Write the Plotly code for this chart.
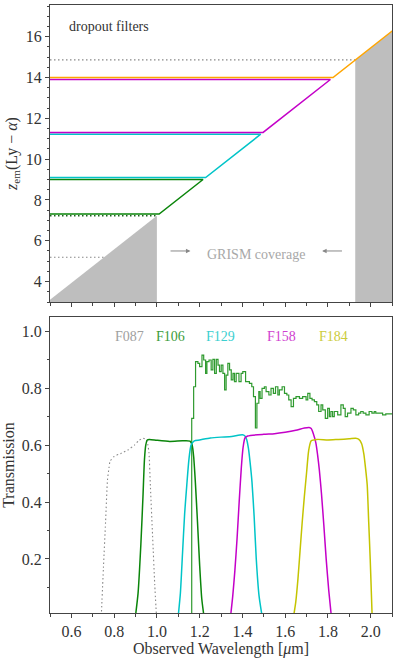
import plotly.graph_objects as go

LYA_UM = 0.1216          # rest-frame Ly-alpha in micron
X_RANGE = [0.5, 2.1]
GRISM_MIN = 1.0
GRISM_MAX = 1.928

# dropout redshift windows, one per filter colour
DROPOUT_COLORS = ["#0a850a", "#00c4c8", "#c400c8", "#ffa500"]
DROPOUT_ZLO = [7.31, 9.10, 11.31, 14.00]
DROPOUT_ZHI = [9.00, 11.22, 13.90, 17.90]
DOTTED_Z = [5.19, 14.86]

# observed spectrum (step edges in micron, transmission per step)
SPEC_EDGES = [
    1.163, 1.172, 1.181, 1.192, 1.200, 1.211, 1.219, 1.228, 1.234, 1.244,
    1.254, 1.262, 1.270, 1.278, 1.286, 1.293, 1.301, 1.309, 1.317, 1.324,
    1.332, 1.340, 1.348, 1.356, 1.363, 1.371, 1.384, 1.394, 1.402, 1.415,
    1.426, 1.433, 1.444, 1.452, 1.461, 1.468, 1.477, 1.483, 1.492, 1.503,
    1.511, 1.524, 1.534, 1.545, 1.555, 1.566, 1.573, 1.586, 1.597, 1.608,
    1.617, 1.628, 1.639, 1.651, 1.667, 1.682, 1.698, 1.706, 1.716, 1.726,
    1.737, 1.748, 1.757, 1.768, 1.776, 1.788, 1.799, 1.807, 1.814, 1.822,
    1.830, 1.846, 1.861, 1.872, 1.881, 1.892, 1.908, 1.919, 1.931, 1.944,
    1.954, 1.965, 1.978, 1.993, 2.006, 2.017, 2.024, 2.040, 2.056, 2.071,
    2.100,
]
SPEC_FLUX = [
    0.694, 0.805, 0.893, 0.887, 0.876, 0.916, 0.899, 0.852, 0.893, 0.899,
    0.864, 0.901, 0.852, 0.901, 0.881, 0.858, 0.881, 0.852, 0.794, 0.846,
    0.887, 0.864, 0.829, 0.852, 0.823, 0.852, 0.823, 0.852, 0.858, 0.823,
    0.823, 0.817, 0.805, 0.770, 0.660, 0.747, 0.788, 0.764, 0.799, 0.805,
    0.788, 0.776, 0.799, 0.782, 0.805, 0.776, 0.794, 0.805, 0.782, 0.776,
    0.759, 0.735, 0.764, 0.770, 0.764, 0.770, 0.759, 0.782, 0.764, 0.759,
    0.753, 0.741, 0.718, 0.741, 0.724, 0.694, 0.729, 0.700, 0.718, 0.700,
    0.718, 0.706, 0.741, 0.729, 0.700, 0.712, 0.729, 0.724, 0.706, 0.712,
    0.718, 0.712, 0.706, 0.718, 0.712, 0.718, 0.712, 0.712, 0.706, 0.710,
]

# filter throughputs
F087_WAVE = [0.740, 0.750, 0.760, 0.769, 0.776, 0.781, 0.800, 0.830, 0.865, 0.895,
             0.915, 0.935, 0.950, 0.958, 0.963, 0.970, 0.980, 0.990, 0.998]
F087_T = [0.0, 0.17, 0.33, 0.478, 0.52, 0.543, 0.56, 0.57, 0.583, 0.60,
          0.616, 0.624, 0.62, 0.60, 0.572, 0.45, 0.28, 0.11, 0.0]
F106_WAVE = [0.900, 0.912, 0.925, 0.935, 0.942, 0.948, 0.955, 0.965, 1.00, 1.06,
             1.12, 1.155, 1.165, 1.172, 1.180, 1.190, 1.200, 1.210, 1.220]
F106_T = [0.0, 0.08, 0.25, 0.42, 0.55, 0.60, 0.618, 0.62, 0.617, 0.613,
          0.615, 0.614, 0.60, 0.56, 0.47, 0.33, 0.18, 0.06, 0.0]
F129_WAVE = [1.100, 1.110, 1.120, 1.130, 1.140, 1.150, 1.160, 1.175, 1.200, 1.250,
             1.300, 1.350, 1.400, 1.412, 1.420, 1.428, 1.436, 1.445, 1.455, 1.465,
             1.478, 1.492]
F129_T = [0.0, 0.08, 0.22, 0.36, 0.46, 0.55, 0.60, 0.615, 0.618, 0.625,
          0.628, 0.630, 0.636, 0.632, 0.62, 0.59, 0.54, 0.47, 0.35, 0.20,
          0.07, 0.0]
F158_WAVE = [1.345, 1.355, 1.365, 1.375, 1.385, 1.395, 1.403, 1.412, 1.425, 1.50,
             1.55, 1.60, 1.65, 1.69, 1.712, 1.722, 1.732, 1.744, 1.752, 1.760,
             1.770, 1.781, 1.792, 1.804, 1.816]
F158_T = [0.0, 0.07, 0.16, 0.27, 0.40, 0.52, 0.59, 0.625, 0.632, 0.638,
          0.640, 0.645, 0.652, 0.66, 0.662, 0.658, 0.64, 0.607, 0.565, 0.513,
          0.43, 0.32, 0.20, 0.09, 0.0]
F184_WAVE = [1.640, 1.650, 1.660, 1.670, 1.680, 1.690, 1.700, 1.710, 1.722, 1.75,
             1.80, 1.85, 1.90, 1.93, 1.945, 1.958, 1.968, 1.976, 1.984, 1.991,
             1.998, 2.003, 2.007]
F184_T = [0.0, 0.05, 0.13, 0.23, 0.33, 0.42, 0.50, 0.58, 0.615, 0.62,
          0.618, 0.62, 0.622, 0.624, 0.62, 0.605, 0.57, 0.52, 0.46, 0.33,
          0.20, 0.09, 0.0]

FILTER_NAMES = ["F087", "F106", "F129", "F158", "F184"]
FILTER_LABEL_X = [0.873, 1.063, 1.298, 1.581, 1.828]
FILTER_COLORS = ["#888888", "#0a850a", "#00c4c8", "#c400c8", "#c4c400"]
LABEL_COLORS = ["#a0a0a0", "#3c9c3c", "#3ccfd0", "#d040d0", "#cccc3c"]

FONT = "Liberation Serif"
DOTS = "1.5px,2.5px"


def z_of(wave):
    return wave / LYA_UM - 1


def wave_of(z):
    return (1 + z) * LYA_UM


fig = go.Figure()

# grey: outside the grism coverage
left_w = [X_RANGE[0], GRISM_MIN]
fig.add_trace(go.Scatter(
    x=left_w + [GRISM_MIN, X_RANGE[0]],
    y=[z_of(w) for w in left_w] + [0, 0],
    fill="toself", fillcolor="#bebebe", line=dict(width=0),
    mode="lines", showlegend=False, xaxis="x", yaxis="y",
))
right_w = [GRISM_MAX, 2.3]
fig.add_trace(go.Scatter(
    x=right_w + [2.3, GRISM_MAX],
    y=[z_of(w) for w in right_w] + [0, 0],
    fill="toself", fillcolor="#bebebe", line=dict(width=0),
    mode="lines", showlegend=False, xaxis="x", yaxis="y",
))

for z in DOTTED_Z:
    fig.add_trace(go.Scatter(
        x=[X_RANGE[0], wave_of(z)], y=[z, z], mode="lines",
        line=dict(color="#888888", width=1.1, dash=DOTS),
        showlegend=False, xaxis="x", yaxis="y",
    ))
fig.add_trace(go.Scatter(
    x=[X_RANGE[0], GRISM_MIN], y=[z_of(GRISM_MIN)] * 2, mode="lines",
    line=dict(color="#1d5e1d", width=1.6, dash=DOTS),
    showlegend=False, xaxis="x", yaxis="y",
))

for color, zlo, zhi in zip(DROPOUT_COLORS, DROPOUT_ZLO, DROPOUT_ZHI):
    fig.add_trace(go.Scatter(
        x=[X_RANGE[0], wave_of(zlo), wave_of(zhi), X_RANGE[0]],
        y=[zlo, zlo, zhi, zhi], mode="lines",
        line=dict(color=color, width=1.5),
        showlegend=False, xaxis="x", yaxis="y",
    ))

# bottom panel: spectrum + filters
fig.add_trace(go.Scatter(
    x=[X_RANGE[0]] + SPEC_EDGES,
    y=[0.0] + SPEC_FLUX + [SPEC_FLUX[-1]],
    mode="lines", line=dict(color="#2f9a2f", width=1.2, shape="hv"),
    showlegend=False, xaxis="x2", yaxis="y2",
))

filters = [(F087_WAVE, F087_T), (F106_WAVE, F106_T), (F129_WAVE, F129_T),
           (F158_WAVE, F158_T), (F184_WAVE, F184_T)]
for i, (w, t) in enumerate(filters):
    fig.add_trace(go.Scatter(
        x=w, y=t, mode="lines",
        line=dict(color=FILTER_COLORS[i], width=1.1 if i == 0 else 1.5,
                  dash=DOTS if i == 0 else "solid",
                  shape="spline", smoothing=0.6),
        showlegend=False, xaxis="x2", yaxis="y2",
    ))

annotations = [
    dict(x=0.58, y=16.52, xref="x", yref="y", text="dropout filters",
         showarrow=False, xanchor="left", font=dict(size=14, color="#333333")),
    dict(x=1.466, y=5.35, xref="x", yref="y", text="GRISM coverage",
         showarrow=False, font=dict(size=14, color="#a8a8a8")),
    dict(x=1.157, y=5.5, ax=1.057, ay=5.5, xref="x", yref="y", axref="x", ayref="y",
         text="", showarrow=True, arrowhead=2, arrowsize=0.9, arrowwidth=1,
         arrowcolor="#888888"),
    dict(x=1.773, y=5.5, ax=1.873, ay=5.5, xref="x", yref="y", axref="x", ayref="y",
         text="", showarrow=True, arrowhead=2, arrowsize=0.9, arrowwidth=1,
         arrowcolor="#888888"),
]
for name, lx, c in zip(FILTER_NAMES, FILTER_LABEL_X, LABEL_COLORS):
    annotations.append(dict(x=lx, y=0.982, xref="x2", yref="y2", text=name,
                            showarrow=False, font=dict(size=14, color=c)))

axis_common = dict(
    showline=True, mirror=True, linecolor="#444444", linewidth=1,
    ticks="outside", ticklen=4, tickcolor="#444444", showgrid=False,
    zeroline=False, automargin=False,
    tickfont=dict(size=16, color="#333333"),
)
minor_common = dict(ticks="outside", ticklen=2.5, tickcolor="#444444")

fig.update_layout(
    width=399, height=661,
    margin=dict(l=50, r=7, t=5, b=48),
    plot_bgcolor="white", paper_bgcolor="white",
    font=dict(family=FONT, size=16, color="#333333"),
    showlegend=False,
    xaxis=dict(range=X_RANGE, anchor="y", domain=[0, 1], dtick=0.2, tick0=0,
               showticklabels=False, minor=dict(dtick=0.1, **minor_common),
               **axis_common),
    yaxis=dict(range=[3, 17.55], anchor="x", domain=[0.5115, 1], dtick=2, tick0=0,
               title=dict(text="<i>z</i><sub>em</sub>(Ly − <i>α</i>)", standoff=4,
                          font=dict(size=16)),
               minor=dict(dtick=0.5, **minor_common),
               **axis_common),
    xaxis2=dict(range=X_RANGE, anchor="y2", domain=[0, 1], dtick=0.2, tick0=0,
                tickformat=".1f",
                title=dict(text="Observed Wavelength [<i>μ</i>m]", standoff=2,
                           font=dict(size=16)),
                minor=dict(dtick=0.1, **minor_common),
                **axis_common),
    yaxis2=dict(range=[0.01, 1.05], anchor="x2", domain=[0, 0.4868], dtick=0.2, tick0=0,
                tickformat=".1f",
                title=dict(text="Transmission", standoff=4, font=dict(size=16)),
                minor=dict(dtick=0.1, **minor_common),
                **axis_common),
    annotations=annotations,
)

# the page's default body margin would push the figure off the window
fig.write_html("out.html", config={"displayModeBar": False},
               post_script="document.body.style.margin='0';")
